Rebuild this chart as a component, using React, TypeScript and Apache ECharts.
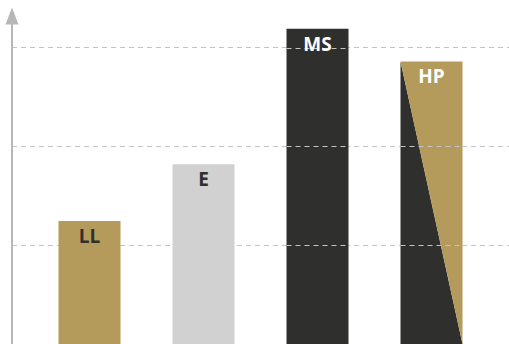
import React, { useEffect, useRef } from "react";
import * as echarts from "echarts";

const categories = ["LL", "E", "MS", "HP"];
const values = [1.245, 1.82, 3.19, 2.86];
const gridValues = [1, 2, 3];
const yMax = 3.32;

const GOLD = "#b49b5c";
const DARK = "#2f2f2d";
const GRAY = "#d0d1d0";
const DASH = "#c4c4c4";

const barStyle: Record<string, { fill: string; text: string; split?: boolean; front: boolean }> = {
  LL: { fill: GOLD, text: DARK, front: true },
  E: { fill: GRAY, text: DARK, front: true },
  MS: { fill: DARK, text: "#ffffff", front: false },
  HP: { fill: GOLD, text: "#ffffff", split: true, front: false },
};

function makeRender(front: boolean) {
  return (params: any, api: any) => {
    const idx = api.value(0);
    const cat = categories[idx];
    const st = barStyle[cat];
    if (st.front !== front) return null;
    const v = api.value(1);
    const top = api.coord([idx, v]);
    const base = api.coord([idx, 0]);
    const w = 62;
    const x0 = top[0] - w / 2;
    const x1 = top[0] + w / 2;
    const children: any[] = [];
    if (st.split) {
      children.push({
        type: "polygon",
        shape: { points: [[x0, top[1]], [x0, base[1]], [x1, base[1]]] },
        style: { fill: DARK },
      });
      children.push({
        type: "polygon",
        shape: { points: [[x0, top[1]], [x1, top[1]], [x1, base[1]]] },
        style: { fill: st.fill },
      });
    } else {
      children.push({
        type: "rect",
        shape: { x: x0, y: top[1], width: w, height: base[1] - top[1] },
        style: { fill: st.fill },
      });
    }
    if (!front) {
      gridValues.forEach((g) => {
        if (g < v) {
          const gy = Math.round(api.coord([idx, g])[1]) + 0.5;
          children.push({
            type: "line",
            shape: { x1: x0, y1: gy, x2: x1, y2: gy },
            style: { stroke: DASH, lineWidth: 1, lineDash: [5, 4] },
          });
        }
      });
    }
    children.push({
      type: "text",
      x: top[0],
      y: top[1] + 15,
      style: {
        text: cat,
        fill: st.text,
        font: 'bold 19px "Open Sans", sans-serif',
        align: "center",
        verticalAlign: "middle",
      },
    });
    return { type: "group", children };
  };
}

export default function App() {
  const ref = useRef<HTMLDivElement>(null);
  useEffect(() => {
    if (!ref.current) return;
    const chart = echarts.init(ref.current, null, { renderer: "svg" });
    const data = values.map((v, i) => [i, v]);
    chart.setOption({
      animation: false,
      grid: [
        { left: 12, right: 0, top: 16, bottom: 0 },
        { left: 32.5, right: 20.5, top: 16, bottom: 0 },
      ],
      xAxis: [
        { type: "value", gridIndex: 0, show: false, min: 0, max: 1 },
        { type: "category", gridIndex: 1, data: categories, show: false, boundaryGap: true },
      ],
      yAxis: [
        {
          type: "value",
          gridIndex: 0,
          min: 0,
          max: yMax,
          interval: 1,
          axisLine: {
            show: true,
            symbol: ["none", "triangle"],
            symbolSize: [13, 17],
            symbolOffset: [0, 0],
            lineStyle: { color: "#b7b7b7", width: 2 },
          },
          axisTick: { show: false },
          axisLabel: { show: false },
          splitLine: {
            show: true,
            showMinLine: false,
            showMaxLine: false,
            lineStyle: { color: DASH, type: [5, 4], width: 1 },
          },
        },
        { type: "value", gridIndex: 1, min: 0, max: yMax, show: false, splitLine: { show: false } },
      ],
      series: [
        {
          type: "custom",
          xAxisIndex: 1,
          yAxisIndex: 1,
          z: 2,
          data,
          renderItem: makeRender(false),
        },
        {
          type: "custom",
          xAxisIndex: 1,
          yAxisIndex: 1,
          z: 3,
          data,
          renderItem: makeRender(true),
        },
      ],
    });
    return () => chart.dispose();
  }, []);
  return <div ref={ref} style={{ width: 509, height: 344, position: "absolute", left: 0, top: 0 }} />;
}
